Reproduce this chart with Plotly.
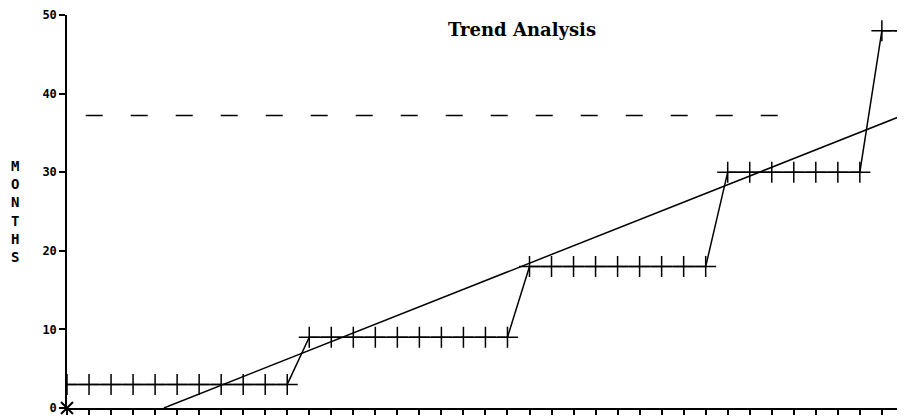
import plotly.graph_objects as go

# Step series (period index vs months)
period = list(range(0, 39))
months = [3]*11 + [9]*10 + [18]*9 + [30]*7 + [48]*2

# Trend line endpoints
trend_x = [4.4, 38.1]
trend_y = [0, 37.4]

# Dashed reference line
ref_x = [0.85, 32.6]
ref_y = [37.2, 37.2]

y_ticks = [0, 10, 20, 30, 40, 50]

fig = go.Figure()
fig.add_trace(go.Scatter(x=ref_x, y=ref_y, mode="lines",
                         line=dict(color="black", width=1.5, dash="17px,28px"),
                         showlegend=False, hoverinfo="skip"))
fig.add_trace(go.Scatter(x=trend_x, y=trend_y, mode="lines",
                         line=dict(color="black", width=1.5),
                         showlegend=False))
fig.add_trace(go.Scatter(x=period, y=months, mode="lines+markers",
                         line=dict(color="black", width=1.5),
                         marker=dict(symbol="cross-thin", size=15,
                                     line=dict(color="black", width=1.5)),
                         showlegend=False))
fig.add_trace(go.Scatter(x=[0], y=[0], mode="markers", cliponaxis=False,
                         marker=dict(symbol="x-thin", size=12,
                                     line=dict(color="black", width=2)),
                         showlegend=False))

fig.update_layout(
    width=897, height=410,
    margin=dict(l=59, r=0, t=7, b=10),
    paper_bgcolor="white", plot_bgcolor="white",
    xaxis=dict(range=[0, 38.05], showgrid=False, zeroline=False,
               showline=True, linecolor="black", linewidth=1.5,
               ticks="outside", ticklen=5, tickcolor="black", tickwidth=1.5,
               tickmode="array", tickvals=period, showticklabels=False),
    yaxis=dict(range=[0, 50], showgrid=False, zeroline=False,
               showline=True, linecolor="black", linewidth=1.5,
               ticks="outside", ticklen=6, tickcolor="black", tickwidth=1.5,
               tickmode="array", tickvals=y_ticks,
               ticktext=[str(v) for v in y_ticks],
               tickfont=dict(family="DejaVu Sans Mono", size=12, color="black", weight="bold")),
    annotations=[
        dict(text="Trend Analysis", xref="paper", yref="paper", x=0.543, y=0.962,
             showarrow=False, xanchor="center", yanchor="middle",
             font=dict(family="DejaVu Serif", size=18, color="black", weight="bold")),
        dict(text="M<br>O<br>N<br>T<br>H<br>S", xref="paper", yref="paper",
             x=-0.062, y=0.499, showarrow=False, xanchor="center", yanchor="middle",
             font=dict(family="DejaVu Sans Mono", size=14, color="black", weight="bold")),
    ],
)

fig.write_html("out.html")
